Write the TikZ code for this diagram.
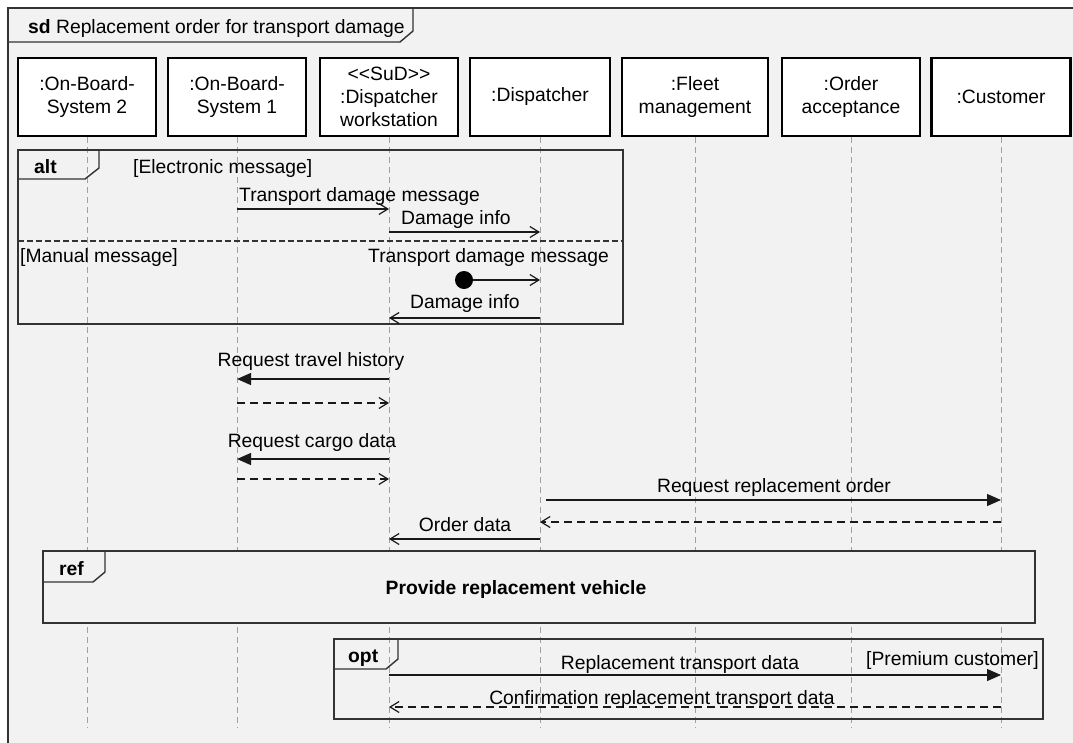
\documentclass[tikz,border=0pt]{standalone}
\usepackage{fontspec}
\newfontfamily\umlfont{Liberation Sans}
\usetikzlibrary{arrows.meta}
\definecolor{bg}{HTML}{F2F2F2}
\definecolor{fr}{HTML}{333333}
\definecolor{ll}{HTML}{A0A0A0}
\begin{document}
\begin{tikzpicture}[x=1pt,y=-1pt,
  every node/.style={font=\umlfont\fontsize{19.3}{23}\selectfont, inner sep=0pt, text=black},
  lbox/.style={draw=black, line width=2.5pt, fill=white, align=center, minimum height=78pt},
  lifeline/.style={draw=ll, line width=1pt, dash pattern=on 6pt off 4pt},
  frm/.style={draw=fr, line width=1.4pt},
  msg/.style={draw=black!90, line width=1.2pt},
  sync/.style={msg, -{Triangle[length=14pt,width=12pt]}},
  async/.style={msg, -{Straight Barb[length=9pt,width=11pt]}},
  reply/.style={async, dash pattern=on 8pt off 5pt},
  lbl/.style={anchor=base},
  lbll/.style={anchor=base west},
  lblr/.style={anchor=base east},
  ]
\useasboundingbox (0,0) rectangle (1073,742);
\clip (0,0) rectangle (1073,742);
\fill[white] (0,0) rectangle (1073,742);
% outer frame
\draw[line width=2pt, draw=fr, fill=bg] (7.5,7.5) rectangle (1100,760);
\draw[frm] (7.5,42) -- (400,42) -- (413,31) -- (413,7.5);
\node[lbll] (sdlbl) at (28,33) {\textbf{sd} Replacement order for transport damage};

% lifeline heads
\node[lbox, minimum width=138pt] (L1) at (87,97) {:On-Board-\\System 2};
\node[lbox, minimum width=138pt] (L2) at (237,97) {:On-Board-\\System 1};
\node[lbox, minimum width=138pt] (L3) at (389,97) {<\kern0pt<SuD>\kern0pt>\\:Dispatcher\\workstation};
\node[lbox, minimum width=140pt] (L4) at (540,97) {:Dispatcher};
\node[lbox, minimum width=146pt] (L5) at (695,97) {:Fleet\\management};
\node[lbox, minimum width=138pt] (L6) at (851,97) {:Order\\acceptance};
\node[lbox, minimum width=139pt] (L7) at (1001,97) {:Customer};

% lifeline ends
\coordinate (E1) at (87,728);
\coordinate (E2) at (237,728);
\coordinate (E3) at (389,728);
\coordinate (E4) at (540,728);
\coordinate (E5) at (695,728);
\coordinate (E6) at (851,728);
\coordinate (E7) at (1001,728);
\foreach \i in {1,...,7} {\draw[lifeline] (L\i) -- (E\i);}

% alt fragment
\draw[frm] (18,150) rectangle (623,324);
\draw[frm] (18,179) -- (85,179) -- (99,168) -- (99,150);
\draw[draw=fr, line width=1.2pt, dash pattern=on 6pt off 3pt] (18,241) -- (623,241);
\node[lbll] (altlbl) at (34,173) {\textbf{alt}};
\node[lbll] (g1) at (133,173) {[Electronic message]};
\node[lbll] (g2) at (20,262) {[Manual message]};

% ref fragment
\draw[frm, fill=bg] (43,551) rectangle (1035,623);
\draw[frm] (43,582) -- (93,582) -- (105,572) -- (105,551);
\node[lbll] (reflbl) at (59,575) {\textbf{ref}};
\node[lbl] (refname) at (516,594) {\textbf{Provide replacement vehicle}};

% opt fragment
\draw[frm] (334,639) rectangle (1043,719);
\draw[frm] (334,669) -- (386,669) -- (398,659) -- (398,639);
\node[lbll] (optlbl) at (348,662) {\textbf{opt}};
\node[lblr] (g3) at (1039,665) {[Premium customer]};

% message end points
\coordinate (m1a) at (237,209); \coordinate (m1b) at (389,209);
\coordinate (m2a) at (389,232); \coordinate (m2b) at (540,232);
\coordinate (m3b) at (540,280);
\coordinate (m4a) at (540,318); \coordinate (m4b) at (389,318);
\coordinate (m5a) at (389,379); \coordinate (m5b) at (237,379);
\coordinate (m6a) at (237,403); \coordinate (m6b) at (389,403);
\coordinate (m7a) at (389,459); \coordinate (m7b) at (237,459);
\coordinate (m8a) at (237,479); \coordinate (m8b) at (389,479);
\coordinate (m9a) at (546,500); \coordinate (m9b) at (1001,500);
\coordinate (m10a) at (1001,522); \coordinate (m10b) at (540,522);
\coordinate (m11a) at (540,539); \coordinate (m11b) at (389,539);
\coordinate (m12a) at (389,675); \coordinate (m12b) at (1001,675);
\coordinate (m13a) at (1001,707); \coordinate (m13b) at (389,707);

% messages
\draw[async] (m1a) -- (m1b);
\node[lbll] (t1) at (239,201) {Transport damage message};
\draw[async] (m2a) -- (m2b);
\node[lbll] (t2) at (401,224) {Damage info};
\node[circle, fill=black, minimum size=18pt] (lost) at (464,280) {};
\draw[async] (lost) -- (m3b);
\node[lbll] (t3) at (368,262) {Transport damage message};
\draw[async] (m4a) -- (m4b);
\node[lbll] (t4) at (410,308) {Damage info};
\draw[sync] (m5a) -- (m5b);
\node[lbl] (t5) at (311,366) {Request travel history};
\draw[reply] (m6a) -- (m6b);
\draw[sync] (m7a) -- (m7b);
\node[lbl] (t7) at (312,447) {Request cargo data};
\draw[reply] (m8a) -- (m8b);
\draw[sync] (m9a) -- (m9b);
\node[lbl] (t9) at (774,492) {Request replacement order};
\draw[reply] (m10a) -- (m10b);
\draw[async] (m11a) -- (m11b);
\node[lbl] (t11) at (465,531) {Order data};
\draw[sync] (m12a) -- (m12b);
\node[lbl] (t12) at (680,669) {Replacement transport data};
\draw[reply] (m13a) -- (m13b);
\node[lbl] (t13) at (662,704) {Confirmation replacement transport data};
\end{tikzpicture}
\end{document}
